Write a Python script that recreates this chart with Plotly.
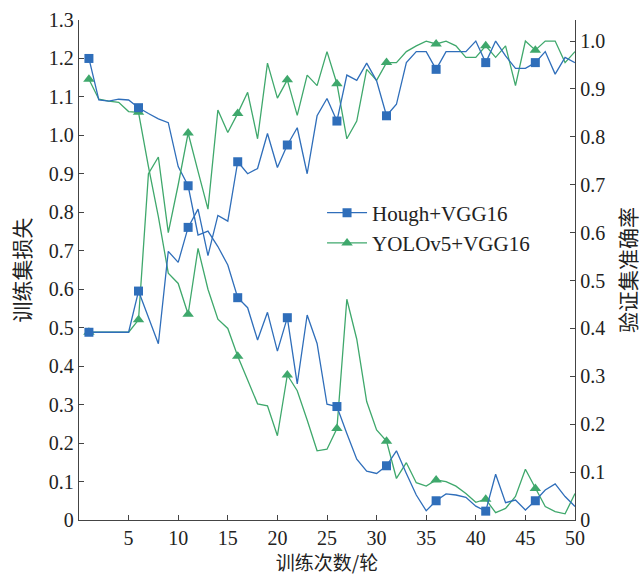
import plotly.graph_objects as go

epochs = list(range(1, 51))

hough_loss = [1.200, 1.092, 1.089, 1.094, 1.092, 1.072, 1.057, 1.043, 1.033, 0.919,
              0.869, 0.741, 0.751, 0.711, 0.663, 0.578, 0.552, 0.468, 0.540, 0.439,
              0.526, 0.354, 0.533, 0.459, 0.301, 0.295, 0.225, 0.158, 0.127, 0.121,
              0.141, 0.180, 0.121, 0.065, 0.024, 0.050, 0.068, 0.065, 0.059, 0.036,
              0.023, 0.119, 0.045, 0.052, 0.026, 0.050, 0.078, 0.094, 0.061, 0.035]

hough_acc = [0.392, 0.392, 0.392, 0.392, 0.392, 0.478, 0.425, 0.368, 0.561, 0.538,
             0.611, 0.649, 0.552, 0.636, 0.624, 0.748, 0.723, 0.734, 0.807, 0.736,
             0.783, 0.819, 0.723, 0.844, 0.880, 0.833, 0.929, 0.918, 0.954, 0.917,
             0.844, 0.868, 0.955, 0.978, 0.978, 0.941, 0.978, 0.978, 0.978, 1.000,
             0.955, 1.000, 0.969, 0.943, 0.943, 0.955, 0.978, 0.931, 0.966, 0.955]

yolo_loss = [1.146, 1.094, 1.089, 1.086, 1.062, 1.060, 0.919, 0.789, 0.642, 0.615,
             0.535, 0.706, 0.600, 0.522, 0.498, 0.426, 0.364, 0.302, 0.297, 0.219,
             0.377, 0.336, 0.260, 0.180, 0.184, 0.238, 0.574, 0.470, 0.308, 0.234,
             0.205, 0.108, 0.149, 0.097, 0.088, 0.104, 0.100, 0.088, 0.069, 0.046,
             0.054, 0.019, 0.030, 0.061, 0.132, 0.082, 0.035, 0.022, 0.016, 0.069]

yolo_acc = [0.392, 0.392, 0.392, 0.392, 0.392, 0.418, 0.723, 0.758, 0.600, 0.700,
            0.808, 0.728, 0.649, 0.856, 0.809, 0.849, 0.893, 0.796, 0.954, 0.881,
            0.919, 0.845, 0.929, 0.907, 0.978, 0.911, 0.796, 0.833, 0.941, 0.918,
            0.955, 0.955, 0.978, 0.990, 1.000, 0.994, 1.000, 0.990, 0.966, 0.966,
            0.990, 0.966, 0.990, 0.907, 1.000, 0.981, 1.000, 1.000, 0.955, 0.978]

series_names = ["Hough+VGG16", "YOLOv5+VGG16"]
x_ticks = [5, 10, 15, 20, 25, 30, 35, 40, 45, 50]
left_ticks = [round(0.1 * i, 1) for i in range(14)]
left_labels = ["0"] + [f"{v:.1f}" for v in left_ticks[1:]]
right_ticks = [round(0.1 * i, 1) for i in range(11)]
right_labels = ["0"] + [f"{v:.1f}" for v in right_ticks[1:]]

BLUE = "#2F6EBA"
GREEN = "#3FA86C"
SERIF = "Liberation Serif, Times New Roman, Noto Sans CJK SC, serif"
CJK = "Noto Sans CJK SC, Liberation Serif, serif"

mark_idx = [i for i, e in enumerate(epochs) if (e - 1) % 5 == 0]

fig = go.Figure()

def add_series(y, color, symbol, msize, yaxis):
    fig.add_trace(go.Scatter(x=epochs, y=y, mode="lines", yaxis=yaxis,
                             line=dict(color=color, width=1.3), showlegend=False,
                             hoverinfo="skip"))
    fig.add_trace(go.Scatter(x=[epochs[i] for i in mark_idx], y=[y[i] for i in mark_idx],
                             mode="markers", yaxis=yaxis, showlegend=False,
                             marker=dict(color=color, symbol=symbol, size=msize)))

add_series(yolo_acc, GREEN, "triangle-up", 10, "y2")
add_series(yolo_loss, GREEN, "triangle-up", 10, "y")
add_series(hough_acc, BLUE, "square", 9, "y2")
add_series(hough_loss, BLUE, "square", 9, "y")

# legend entries
fig.add_trace(go.Scatter(x=[None], y=[None], mode="lines+markers", name=series_names[0],
                         line=dict(color=BLUE, width=1.3),
                         marker=dict(color=BLUE, symbol="square", size=9)))
fig.add_trace(go.Scatter(x=[None], y=[None], mode="lines+markers", name=series_names[1],
                         line=dict(color=GREEN, width=1.3),
                         marker=dict(color=GREEN, symbol="triangle-up", size=10)))

axis_common = dict(showgrid=False, zeroline=False, showline=True, linecolor="#444",
                   linewidth=1.3, ticks="inside", ticklen=5, tickcolor="#444",
                   automargin=False,
                   tickfont=dict(family=SERIF, size=20, color="#222"))

fig.update_layout(
    width=642, height=575,
    margin=dict(l=79, r=67, t=20, b=55),
    paper_bgcolor="white", plot_bgcolor="white",
    xaxis=dict(range=[0, 50], tickvals=x_ticks, ticktext=[str(v) for v in x_ticks],
               title=dict(text="训练次数/轮", font=dict(family=CJK, size=19, color="#222"),
                          standoff=8),
               **axis_common),
    yaxis=dict(range=[0, 1.3], tickvals=left_ticks, ticktext=left_labels,
               title=dict(text="训练集损失", font=dict(family=CJK, size=21, color="#222"),
                          standoff=12),
               **axis_common),
    yaxis2=dict(range=[0, 1.044], tickvals=right_ticks, ticktext=right_labels,
                overlaying="y", side="right", anchor="x",
                title=dict(text="验证集准确率", font=dict(family=CJK, size=21, color="#222"),
                           standoff=18),
                **axis_common),
    legend=dict(x=0.49, y=0.655, xanchor="left", yanchor="top",
                bgcolor="rgba(0,0,0,0)", font=dict(family=SERIF, size=21, color="#222"),
                tracegroupgap=0, itemwidth=40),
    showlegend=True,
)

fig.write_html("out.html")
